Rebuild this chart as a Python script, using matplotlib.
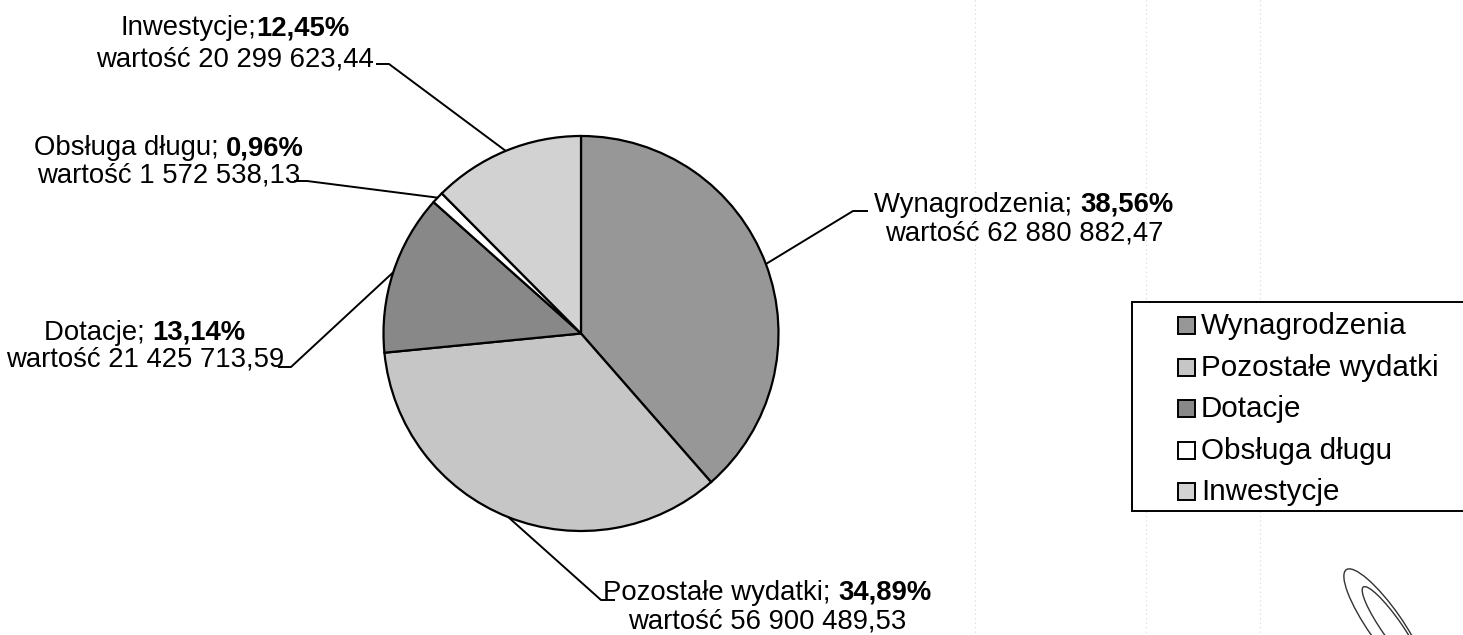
import matplotlib
matplotlib.use("Agg")
import matplotlib.pyplot as plt
from matplotlib.patches import Rectangle, Ellipse
import numpy as np

# ---------------- data ----------------
categories = ["Wynagrodzenia", "Pozostałe wydatki", "Dotacje", "Obsługa długu", "Inwestycje"]
shares = [38.56, 34.89, 13.14, 0.96, 12.45]
values = [62880882.47, 56900489.53, 21425713.59, 1572538.13, 20299623.44]
colors = ["#979797", "#c6c6c6", "#888888", "#ffffff", "#d2d2d2"]

plt.rcParams["font.family"] = ["Liberation Sans", "DejaVu Sans"]
FS = 19.8
FS_LEG = 21.3

W, H = 1463, 635
fig = plt.figure(figsize=(W / 100, H / 100), dpi=100)
ax = fig.add_axes([0, 0, 1, 1])

CX, CY, R = 581, 333.5, 197.5
wedges, _ = ax.pie(values, colors=colors, startangle=-90, counterclock=True,
                   center=(CX, CY), radius=R,
                   wedgeprops=dict(edgecolor="black", linewidth=1.6))
ax.set_xlim(0, W)
ax.set_ylim(H, 0)
ax.set_aspect("equal")
ax.axis("off")

renderer = fig.canvas.get_renderer()


def fmt_val(v):
    return "wartość " + f"{v:,.2f}".replace(",", " ").replace(".", ",")


def fmt_pct(p):
    return f"{p:.2f}".replace(".", ",") + "%"


def mixed_line(xc, yb, normal, bold):
    t1 = ax.text(0, yb, normal, fontsize=FS, va="baseline", ha="left")
    t2 = ax.text(0, yb, bold, fontsize=FS, va="baseline", ha="left", fontweight="bold")
    w1 = t1.get_window_extent(renderer).width
    w2 = t2.get_window_extent(renderer).width
    x0 = xc - (w1 + w2) / 2
    t1.set_x(x0)
    t2.set_x(x0 + w1)


# label layout: (center x, baseline line1, baseline line2, separator, leader elbow points)
layout = {
    "Wynagrodzenia": (1024, 212, 241, "; ", [(853, 211), (868, 211)]),
    "Pozostałe wydatki": (767, 600, 628, "; ", [(601, 600), (615, 600)]),
    "Dotacje": (145, 340, 367, "; ", [(291, 367), (278, 367)]),
    "Obsługa długu": (169, 155, 183, "; ", [(307, 181), (294, 181)]),
    "Inwestycje": (235, 35, 66, ";", [(389, 64), (376, 64)]),
}

for wdg, cat, p, v in zip(wedges, categories, shares, values):
    xc, y1, y2, sep, elbow = layout[cat]
    mixed_line(xc, y1, cat + sep, fmt_pct(p))
    ax.text(xc, y2, fmt_val(v), fontsize=FS, va="baseline", ha="center")
    mid = np.deg2rad((wdg.theta1 + wdg.theta2) / 2)
    px, py = CX + R * np.cos(mid), CY + R * np.sin(mid)
    xs = [px] + [e[0] for e in elbow]
    ys = [py] + [e[1] for e in elbow]
    ax.plot(xs, ys, color="black", lw=1.4, solid_capstyle="butt")

# faint scan guide lines
for gx in (975, 1146, 1260):
    ax.plot([gx, gx], [0, H], color="#d5d5d5", lw=0.8, ls=(0, (1, 3)), zorder=0)

# legend (manual, drawn from pie colours)
ax.add_patch(Rectangle((1132, 302), 400, 209, fill=True, facecolor="white",
                       edgecolor="black", lw=1.4, clip_on=False, zorder=3))
for i, (cat, c) in enumerate(zip(categories, colors)):
    yb = 334 + 41.6 * i
    ax.add_patch(Rectangle((1178, yb - 17), 17, 17, facecolor=c, edgecolor="black",
                           lw=1.4, zorder=4))
    ax.text(1201, yb, cat, fontsize=FS_LEG, va="baseline", ha="left", zorder=4)

# signature scribble
ax.add_patch(Ellipse((1385, 625), 34, 135, angle=-35, fill=False, edgecolor="#333333", lw=1.0))
ax.add_patch(Ellipse((1392, 628), 20, 100, angle=-35, fill=False, edgecolor="#333333", lw=1.0))

fig.savefig("out.png", dpi=100)
